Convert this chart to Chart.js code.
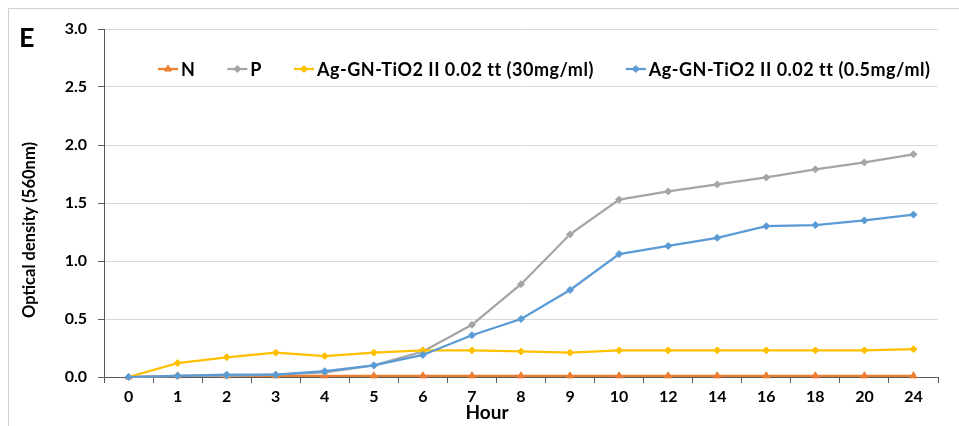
<!DOCTYPE html>
<html>
<head>
<meta charset="utf-8">
<script src="https://cdn.jsdelivr.net/npm/chart.js@4/dist/chart.umd.min.js"></script>
<style>
  html, body { margin: 0; padding: 0; background: #fff; }
  #wrap { position: relative; width: 959px; height: 426px; }
</style>
</head>
<body>
<div id="wrap"><canvas id="c" width="959" height="426"></canvas></div>
<script>
// Sampling times (hours) and optical density readings at 560 nm
const hours = ['0', '1', '2', '3', '4', '5', '6', '7', '8', '9', '10', '12', '14', '16', '18', '20', '24'];
const odN = [0.00, 0.01, 0.01, 0.01, 0.01, 0.01, 0.01, 0.01, 0.01, 0.01, 0.01, 0.01, 0.01, 0.01, 0.01, 0.01, 0.01];
const odP = [0.00, 0.01, 0.01, 0.02, 0.04, 0.10, 0.22, 0.45, 0.80, 1.23, 1.53, 1.60, 1.66, 1.72, 1.79, 1.85, 1.92];
const odAg30 = [0.00, 0.12, 0.17, 0.21, 0.18, 0.21, 0.23, 0.23, 0.22, 0.21, 0.23, 0.23, 0.23, 0.23, 0.23, 0.23, 0.24];
const odAg05 = [0.00, 0.01, 0.02, 0.02, 0.05, 0.10, 0.19, 0.36, 0.50, 0.75, 1.06, 1.13, 1.20, 1.30, 1.31, 1.35, 1.40];
const yTicks = [0, 0.5, 1.0, 1.5, 2.0, 2.5, 3.0];

const seriesNames = ['N', 'P', 'Ag-GN-TiO2 II 0.02 tt (30mg/ml)', 'Ag-GN-TiO2 II 0.02 tt (0.5mg/ml)'];
const seriesColors = ['#ED7D31', '#A5A5A5', '#FFC000', '#5B9BD5'];
const seriesMarkers = ['triangle', 'rectRot', 'rectRot', 'rectRot'];

const FONT = 'Lato, "Liberation Sans", sans-serif';
const AXIS_COLOR = '#595959';

function makeSet(i, data) {
  return {
    label: seriesNames[i],
    data: data,
    borderColor: seriesColors[i],
    backgroundColor: seriesColors[i],
    borderWidth: 2.25,
    pointStyle: seriesMarkers[i],
    pointRadius: seriesMarkers[i] === 'triangle' ? 4 : 3.5,
    pointBorderWidth: 1,
    pointHoverRadius: 4,
    tension: 0,
    clip: false,
    order: 4 - i
  };
}

// Frame, panel letter, axis titles and the inline legend
const decorations = {
  id: 'decorations',
  beforeDraw(chart) {
    const ctx = chart.ctx;
    ctx.save();
    ctx.fillStyle = '#fff';
    ctx.fillRect(0, 0, chart.width, chart.height);
    ctx.strokeStyle = '#D0D0D0';
    ctx.lineWidth = 1;
    ctx.beginPath();
    ctx.moveTo(8.5, chart.height);
    ctx.lineTo(8.5, 8.5);
    ctx.lineTo(chart.width, 8.5);
    ctx.stroke();
    ctx.restore();
  },
  afterDraw(chart) {
    const ctx = chart.ctx;
    const area = chart.chartArea;
    ctx.save();
    ctx.fillStyle = '#000';

    // panel letter
    ctx.font = 'bold 27px ' + FONT;
    ctx.textAlign = 'left';
    ctx.textBaseline = 'alphabetic';
    ctx.fillText('E', 19, 47);

    // y axis title
    ctx.save();
    ctx.translate(30, 230);
    ctx.rotate(-Math.PI / 2);
    ctx.font = 'bold 16.5px ' + FONT;
    ctx.textAlign = 'center';
    ctx.textBaseline = 'middle';
    ctx.fillText('Optical density (560nm)', 0, 0);
    ctx.restore();

    // x axis title
    ctx.font = 'bold 19px ' + FONT;
    ctx.textAlign = 'center';
    ctx.textBaseline = 'middle';
    ctx.fillText('Hour', 487, 413);

    // legend: line with marker, then label
    ctx.font = 'bold 18px ' + FONT;
    if ('letterSpacing' in ctx) ctx.letterSpacing = '0.5px';
    ctx.textBaseline = 'middle';
    ctx.textAlign = 'left';
    let x = area.left + 54;
    const y = 69;
    seriesNames.forEach((name, i) => {
      ctx.strokeStyle = seriesColors[i];
      ctx.lineWidth = 2.25;
      ctx.beginPath();
      ctx.moveTo(x, y);
      ctx.lineTo(x + 20, y);
      ctx.stroke();
      ctx.fillStyle = seriesColors[i];
      ctx.strokeStyle = seriesColors[i];
      ctx.lineWidth = 1;
      Chart.helpers.drawPoint(ctx, {
        pointStyle: seriesMarkers[i],
        radius: seriesMarkers[i] === 'triangle' ? 4 : 3.5,
        borderWidth: 1,
        rotation: 0
      }, x + 10, y);
      ctx.fillStyle = '#000';
      ctx.fillText(name, x + 23, y + 1);
      x += 23 + ctx.measureText(name).width + 32;
    });
    ctx.restore();
  }
};

new Chart(document.getElementById('c'), {
  type: 'line',
  data: {
    labels: hours,
    datasets: [makeSet(0, odN), makeSet(1, odP), makeSet(2, odAg30), makeSet(3, odAg05)]
  },
  plugins: [decorations],
  options: {
    responsive: false,
    animation: false,
    devicePixelRatio: 1,
    layout: { padding: { left: 0, right: 21, top: 29, bottom: 0 } },
    plugins: { legend: { display: false }, tooltip: { enabled: false } },
    scales: {
      x: {
        type: 'category',
        offset: true,
        afterFit(scale) { scale.height = 49; },
        grid: {
          offset: true,
          drawOnChartArea: false,
          drawTicks: true,
          tickLength: 6,
          tickColor: AXIS_COLOR,
          color: AXIS_COLOR
        },
        border: { color: AXIS_COLOR, width: 1 },
        ticks: {
          color: '#000',
          padding: 4,
          maxRotation: 0,
          autoSkip: false,
          font: { family: FONT, size: 16, weight: 'bold' }
        }
      },
      y: {
        min: 0,
        max: 3,
        afterFit(scale) { scale.width = 104; },
        afterBuildTicks(scale) { scale.ticks = yTicks.map(v => ({ value: v })); },
        grid: {
          color: '#D9D9D9',
          lineWidth: 1,
          drawTicks: true,
          tickLength: 6,
          tickColor: AXIS_COLOR
        },
        border: { color: AXIS_COLOR, width: 1 },
        ticks: {
          color: '#000',
          padding: 11,
          callback: v => Number(v).toFixed(1),
          font: { family: FONT, size: 16, weight: 'bold' }
        }
      }
    }
  }
});
</script>
</body>
</html>
